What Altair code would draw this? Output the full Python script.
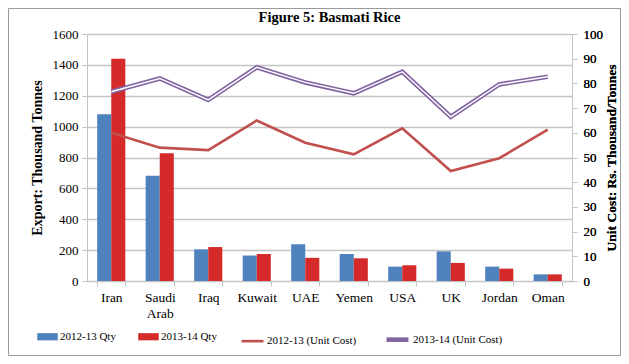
import altair as alt
import pandas as pd

countries = ["Iran", "Saudi Arab", "Iraq", "Kuwait", "UAE", "Yemen", "USA", "UK", "Jordan", "Oman"]
qty_1213 = [1080, 682, 205, 165, 238, 175, 93, 192, 93, 43]
qty_1314 = [1440, 828, 220, 175, 150, 147, 102, 117, 80, 43]
cost_1213 = [60.0, 54.0, 53.0, 65.0, 56.0, 51.3, 61.8, 44.5, 49.7, 61.3]
cost_1314 = [76.6, 82.0, 73.3, 86.5, 80.4, 76.0, 84.7, 66.5, 79.6, 82.7]

bar_series = ["2012-13 Qty", "2013-14 Qty"]
line_series = ["2012-13 (Unit Cost)", "2013-14 (Unit Cost)"]

BLUE = "#4F81BD"
RED_BAR = "#D42A2A"
RED_LINE = "#C0504D"
PURPLE = "#8064A2"
GRID = "#C4C4C4"
FONT = "'Liberation Serif', 'Times New Roman', Times, serif"

bars_df = pd.DataFrame({
    "country": countries * 2,
    "series": [bar_series[0]] * len(countries) + [bar_series[1]] * len(countries),
    "value": qty_1213 + qty_1314,
})
lines_df = pd.DataFrame({
    "country": countries * 2,
    "series": [line_series[0]] * len(countries) + [line_series[1]] * len(countries),
    "cost": cost_1213 + cost_1314,
})

W, H = 485, 247

x_enc = alt.X(
    "country:N", sort=countries, title=None,
    scale=alt.Scale(paddingInner=0.42, paddingOuter=0.21),
    axis=alt.Axis(
        labelAngle=0, tickBand="extent", tickSize=5, labelPadding=4,
        labelExpr="split(datum.label, ' ')", labelLineHeight=16,
        labelFont=FONT, labelFontSize=13.5, labelColor="black",
        domainColor=GRID, tickColor=GRID, grid=False,
    ),
)

bars = alt.Chart(bars_df).mark_bar().encode(
    x=x_enc,
    xOffset=alt.XOffset("series:N", sort=bar_series,
                        scale=alt.Scale(paddingInner=0, paddingOuter=0)),
    y=alt.Y(
        "value:Q",
        scale=alt.Scale(domain=[0, 1600], nice=False),
        axis=alt.Axis(
            values=list(range(0, 1601, 200)), format="d", title="Export: Thousand Tonnes",
            titleFont=FONT, titleFontSize=14, titleFontWeight="bold", titleColor="black",
            titlePadding=8,
            labelFont=FONT, labelFontSize=13, labelColor="black", labelPadding=4,
            tickSize=5, tickColor=GRID, domainColor=GRID,
            grid=True, gridColor=GRID, gridWidth=1.3,
        ),
    ),
    color=alt.Color(
        "series:N",
        scale=alt.Scale(domain=bar_series, range=[BLUE, RED_BAR]),
        legend=alt.Legend(
            orient="none", legendX=-50, legendY=292, direction="horizontal",
            title=None, symbolType="M-1,-0.35H1V0.35H-1Z", symbolSize=420,
            symbolStrokeWidth=0, symbolOpacity=1, labelFont=FONT, labelFontSize=11,
            labelColor="black", labelOffset=2, columnPadding=22,
        ),
    ),
)

def right_axis():
    return alt.Axis(
        orient="right", values=list(range(0, 101, 10)), format="d",
        title="Unit Cost: Rs. Thousand/Tonnes", titleAngle=270,
        titleFont=FONT, titleFontSize=13.5, titleFontWeight="bold", titleColor="black",
        titlePadding=16,
        labelFont=FONT, labelFontSize=13, labelColor="black", labelPadding=6,
        tickSize=5, tickColor=GRID, domainColor=GRID, grid=False,
    )

y_scale = alt.Scale(domain=[0, 100], nice=False)

lines = alt.Chart(lines_df).mark_line().encode(
    x=alt.X("country:N", sort=countries),
    y=alt.Y("cost:Q", scale=y_scale, axis=right_axis()),
    strokeWidth=alt.StrokeWidth(
        "series:N", scale=alt.Scale(domain=line_series, range=[2.6, 4.6]), legend=None),
    color=alt.Color(
        "series:N",
        scale=alt.Scale(domain=line_series, range=[RED_LINE, PURPLE]),
        legend=alt.Legend(
            orient="none", legendX=153, legendY=292, direction="horizontal",
            title=None, symbolType="stroke", symbolSize=484, symbolStrokeWidth=2.6,
            labelFont=FONT, labelFontSize=11, labelColor="black", labelOffset=2,
            columnPadding=20,
        ),
    ),
)

inner = alt.Chart(lines_df).transform_filter(
    alt.datum.series == line_series[1]
).mark_line(strokeWidth=1.4, color="white").encode(
    x=alt.X("country:N", sort=countries),
    y=alt.Y("cost:Q", scale=y_scale, axis=right_axis()),
)

frame = alt.Chart(pd.DataFrame({"k": [0]})).mark_rect(
    fill=None, stroke="#9A9A9A", strokeWidth=1
).encode(
    x=alt.value(-78.5), x2=alt.value(W + 48.5),
    y=alt.value(-25.5), y2=alt.value(H + 74.5),
)

chart = alt.layer(bars, lines, inner, frame).resolve_scale(
    y="independent", color="independent", strokeWidth="independent"
).properties(
    width=W, height=H,
    title=alt.TitleParams("Figure 5: Basmati Rice", font=FONT, fontSize=14.5,
                          fontWeight="bold", color="black", anchor="middle", offset=-17),
    autosize=alt.AutoSizeParams(type="none"),
    padding={"left": 79, "top": 26, "right": 49, "bottom": 75},
).configure_view(stroke=None)

chart.save("out.html", embed_options={"renderer": "svg", "actions": False})
